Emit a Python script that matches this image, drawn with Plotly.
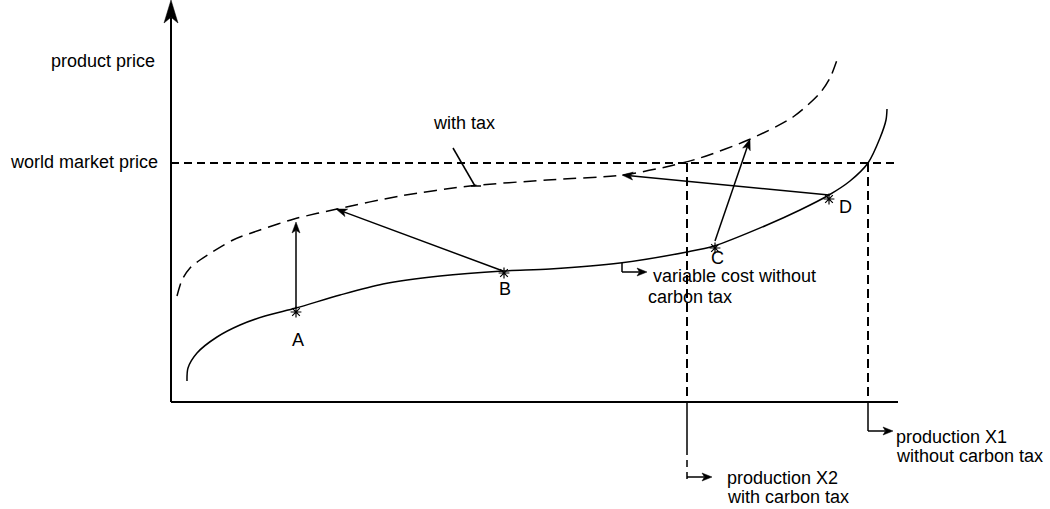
import plotly.graph_objects as go

# origin of the diagram sits where the two axes meet
# variable cost curve without carbon tax (x = production, y = price)
cost_x = [16, 17, 26, 46, 69, 94, 125, 169, 212, 269, 332, 379, 449, 516, 543, 596, 629, 658, 679, 697, 709, 715, 716]
cost_y = [21, 34, 49, 65, 77, 86, 94, 107, 118, 126, 131, 133, 139, 150, 156, 177, 192, 207, 221, 239, 264, 282, 293]

# same curve once the carbon tax is added
tax_x = [6, 11, 19, 29, 62, 89, 123, 166, 229, 299, 376, 452, 499, 529, 577, 622, 649, 659, 667]
tax_y = [106, 122, 134, 142, 162, 172, 183, 193, 206, 216, 222, 227, 236, 244, 262, 285, 309, 324, 345]

world_price = 239
x_axis_end = 727
y_axis_top = 392
prod_x1 = 697
prod_x2 = 516

# plants A-D on the cost curve
pt_names = ["A", "B", "C", "D"]
pt_x = [125, 333, 544, 658]
pt_y = [90, 129, 154, 203]
lbl_x = [127, 334, 546, 674]
lbl_y = [62, 113, 144, 195]

# shift of each plant to the taxed curve
shift_from_x = [125, 332, 544, 658]
shift_from_y = [94, 131, 161, 207]
shift_to_x = [125, 165, 579, 451]
shift_to_y = [180, 193, 263, 227]

FONT = dict(family="Liberation Sans, Arial, sans-serif", size=18, color="black")

fig = go.Figure()


def line(xs, ys, width=1.5, dash="solid", shape="linear"):
    fig.add_trace(go.Scatter(x=xs, y=ys, mode="lines",
                             line=dict(color="black", width=width, dash=dash, shape=shape, smoothing=0.8),
                             showlegend=False, hoverinfo="skip"))


def arrow(x0, y0, x1, y1, head_len=11, head_w=4, width=1.5):
    #line with a filled notched head at (x1, y1)
    dx, dy = x1 - x0, y1 - y0
    d = (dx * dx + dy * dy) ** 0.5
    ux, uy = dx / d, dy / d
    bx, by = x1 - ux * head_len, y1 - uy * head_len
    nx, ny = x1 - ux * head_len * 0.75, y1 - uy * head_len * 0.75
    px, py = -uy, ux
    line([x0, nx], [y0, ny], width=width)
    fig.add_trace(go.Scatter(x=[x1, bx + px * head_w, nx, bx - px * head_w, x1],
                             y=[y1, by + py * head_w, ny, by - py * head_w, y1],
                             mode="lines", fill="toself", fillcolor="black", line=dict(color="black", width=0.5),
                             showlegend=False, hoverinfo="skip"))


def text(s, x, y, anchor="left"):
    fig.add_annotation(x=x, y=y, text=s, showarrow=False, xanchor=anchor, yanchor="middle", font=FONT)


# axes
arrow(0, 0, 0, y_axis_top + 10, head_len=23, head_w=7, width=2)
line([0, x_axis_end], [0, 0], width=2)

# world market price and production levels
line([0, x_axis_end], [world_price, world_price], width=2, dash="8px,5px")
line([prod_x2, prod_x2], [world_price, 0], width=2, dash="9px,5px")
line([prod_x1, prod_x1], [world_price, 0], width=2, dash="9px,5px")

# curves
line(cost_x, cost_y, width=1.5, shape="spline")
line(tax_x, tax_y, width=1.5, dash="13px,7px", shape="spline")

# shifts A-D
for i in range(len(pt_names)):
    arrow(shift_from_x[i], shift_from_y[i], shift_to_x[i], shift_to_y[i])

fig.add_trace(go.Scatter(x=pt_x, y=pt_y, mode="markers",
                         marker=dict(symbol="asterisk-open", size=9, color="black",
                                     line=dict(color="black", width=1.2)),
                         showlegend=False, hoverinfo="skip"))
for i, name in enumerate(pt_names):
    fig.add_annotation(x=lbl_x[i], y=lbl_y[i], text=name, showarrow=False, xanchor="center", yanchor="middle", font=FONT)

# leaders and labels
line([282, 304], [254, 216], width=1.5)
line([300, 310], [216, 216], width=1.5)
text("with tax", 260, 279)

line([451, 451], [139, 130], width=1.5)
arrow(451, 130, 476, 130, head_len=10, head_w=4)
text("variable cost without", 480, 126)
text("carbon tax", 475, 105)

line([prod_x1, prod_x1], [0, -29], width=1.5)
arrow(prod_x1, -29, prod_x1 + 25, -29, head_len=10, head_w=4)
text("production X1", 723, -35)
text("without carbon tax", 723, -54)

line([prod_x2, prod_x2], [0, -46], width=1.5)
line([prod_x2, prod_x2], [-46, -78], width=1.5, dash="7px,5px")
arrow(prod_x2, -75, prod_x2 + 25, -75, head_len=10, head_w=4)
text("production X2", 554, -76)
text("with carbon tax", 554, -95)

text("product price", -14, 341, anchor="right")
text("world market price", -11, 240, anchor="right")

fig.update_layout(width=1050, height=509, margin=dict(l=0, r=0, t=0, b=0),
                  paper_bgcolor="white", plot_bgcolor="white")
fig.update_xaxes(visible=False, range=[-171, 879])
fig.update_yaxes(visible=False, range=[-107, 402])

# drop the default page margin so the figure fills the window
fig.write_html("out.html", config={"displayModeBar": False},
               post_script="document.body.style.margin='0';")
